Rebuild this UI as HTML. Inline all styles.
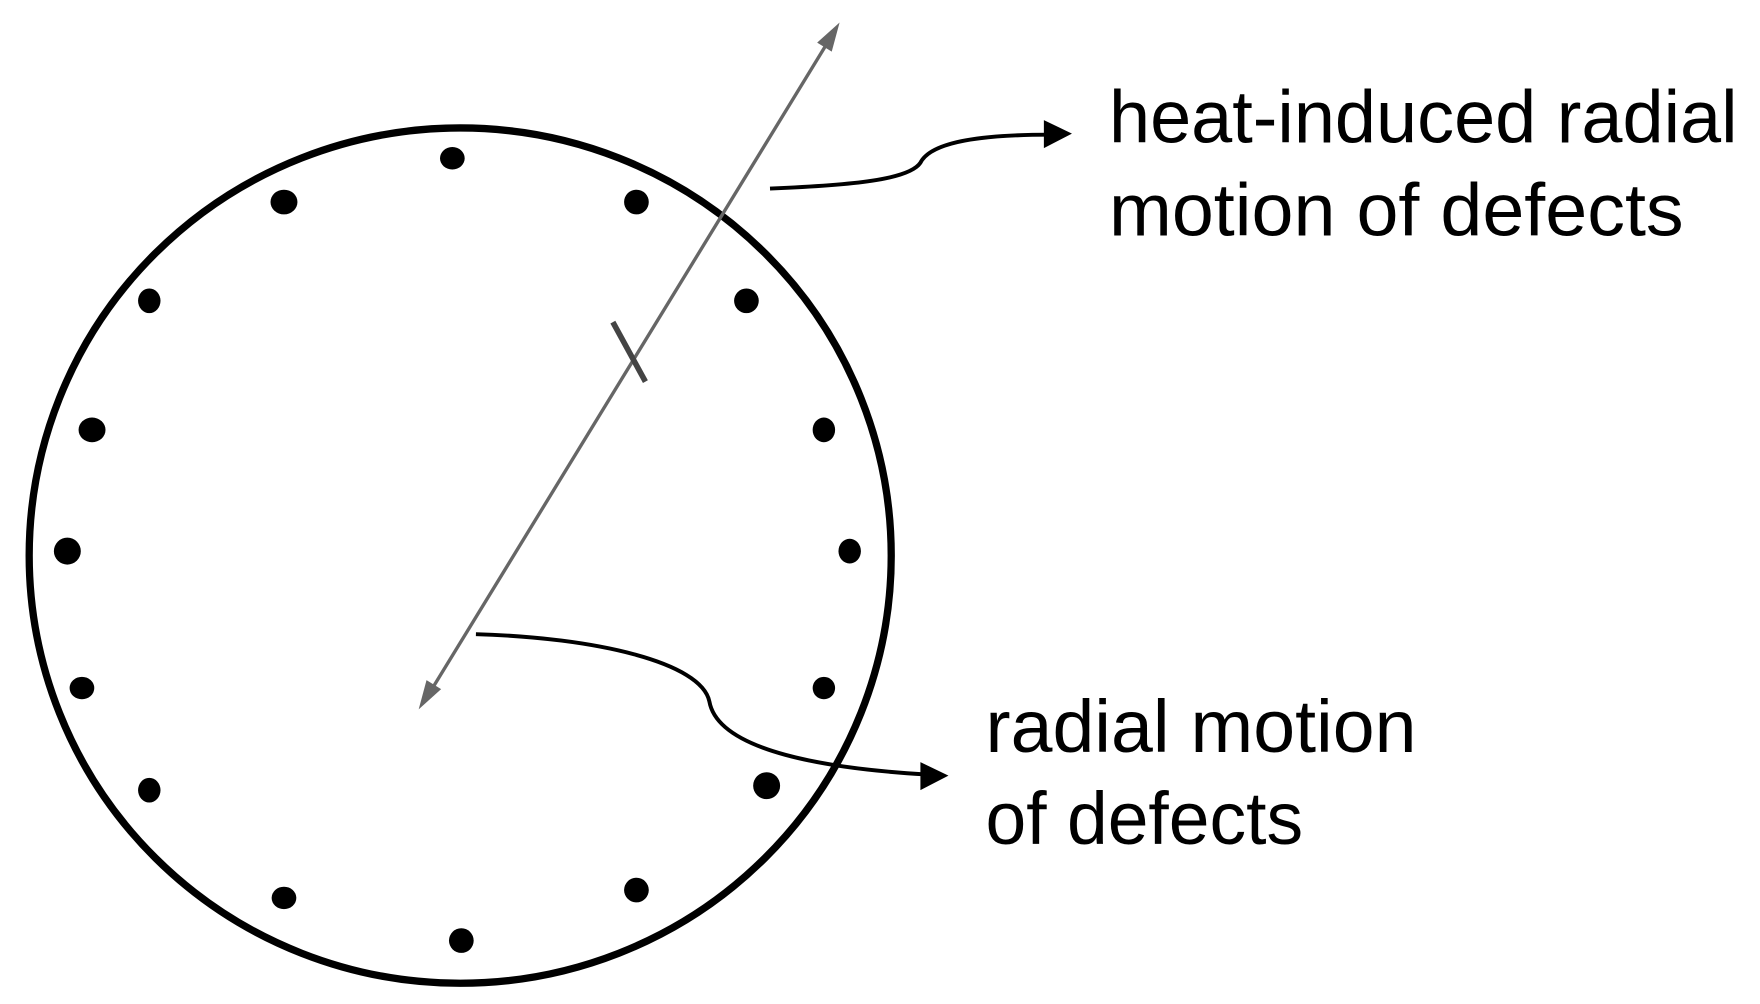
<!DOCTYPE html>
<html><head><meta charset="utf-8"><style>html,body{margin:0;padding:0;background:#fff;}svg{display:block;}</style></head>
<body>
<svg width="1760" height="1004" viewBox="0 0 1568 894.5" preserveAspectRatio="none" xmlns="http://www.w3.org/2000/svg">
<ellipse cx="410" cy="495" rx="384" ry="381" fill="none" stroke="#000" stroke-width="6.5"/>
<g fill="#000">
<ellipse cx="403" cy="141" rx="11" ry="10"/>
<ellipse cx="567" cy="180" rx="11" ry="11"/>
<ellipse cx="665" cy="268" rx="11" ry="11"/>
<ellipse cx="734" cy="383" rx="10" ry="11"/>
<ellipse cx="757" cy="491" rx="10" ry="11"/>
<ellipse cx="734" cy="613" rx="10" ry="10"/>
<ellipse cx="683" cy="700" rx="12" ry="12"/>
<ellipse cx="567" cy="793" rx="11" ry="11"/>
<ellipse cx="411" cy="838" rx="11" ry="11"/>
<ellipse cx="253" cy="800" rx="11" ry="10"/>
<ellipse cx="133" cy="704" rx="10" ry="11"/>
<ellipse cx="73" cy="613" rx="11" ry="10"/>
<ellipse cx="60" cy="491" rx="12" ry="12"/>
<ellipse cx="82" cy="383" rx="12" ry="11"/>
<ellipse cx="133" cy="268" rx="10" ry="11"/>
<ellipse cx="253" cy="180" rx="12" ry="11"/>
</g>
<line x1="378" y1="625" x2="744" y2="27" stroke="#666" stroke-width="3"/>
<path d="M373,632 L380,606 L393,614 z" fill="#666"/>
<path d="M748,20 L741,46 L728,38 z" fill="#666"/>
<line x1="546" y1="287" x2="575" y2="340" stroke="#444" stroke-width="5"/>
<path d="M686,168 C760,165 810,160 820,145 C830,125 880,120 935,120" fill="none" stroke="#000" stroke-width="3.5"/>
<path d="M955,119 L930,107 L930,132 z" fill="#000"/>
<path d="M424,565 C530,568 625,590 632,625 C640,670 740,685 825,690" fill="none" stroke="#000" stroke-width="3.5"/>
<path d="M845,691 L820,679 L820,704 z" fill="#000"/>
<g font-family="Liberation Sans, sans-serif" font-size="66" fill="#000">
<text x="988" y="127" textLength="560" lengthAdjust="spacingAndGlyphs">heat-induced radial</text>
<text x="988" y="210" textLength="512" lengthAdjust="spacingAndGlyphs">motion of defects</text>
<text x="878" y="670" textLength="384" lengthAdjust="spacingAndGlyphs">radial motion</text>
<text x="878" y="752" textLength="283" lengthAdjust="spacingAndGlyphs">of defects</text>
</g>
</svg>
</body></html>
